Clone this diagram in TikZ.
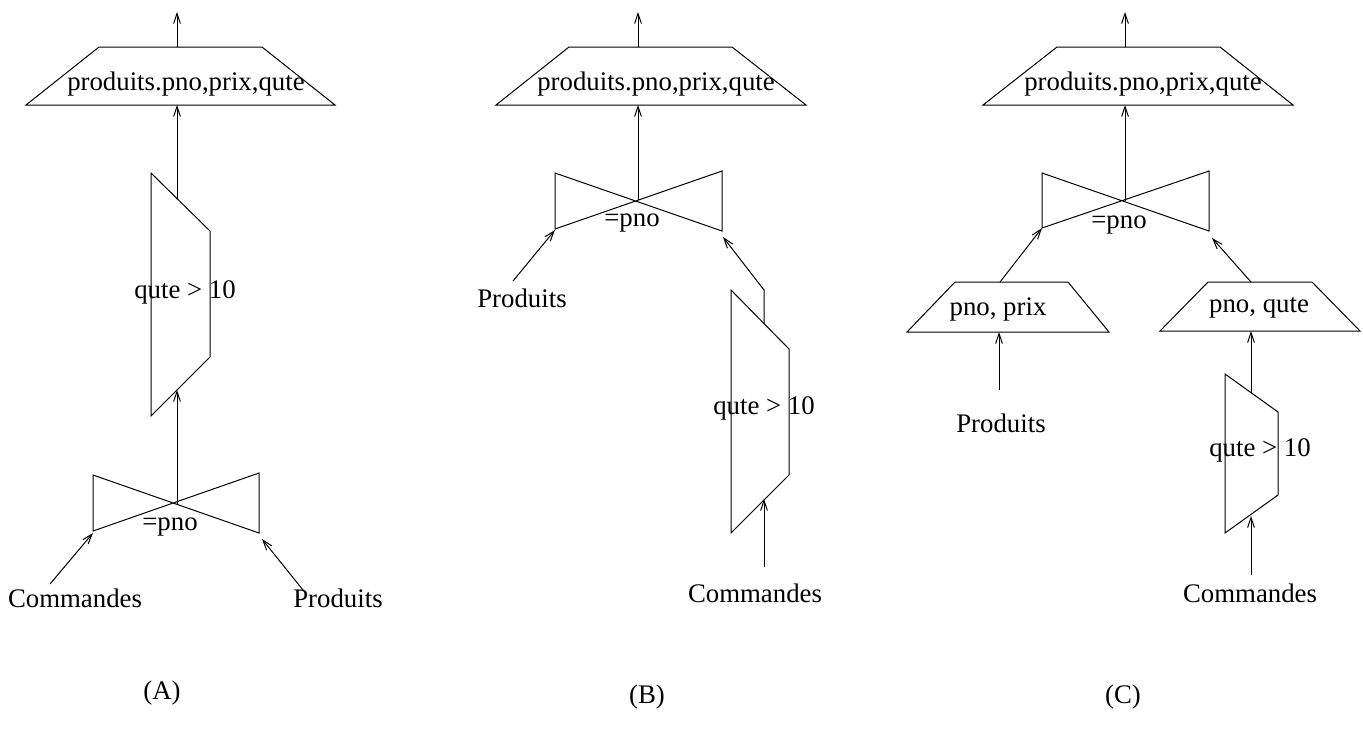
\documentclass[tikz,border=0pt]{standalone}
\usepackage{fontspec}
\setmainfont{Liberation Serif}
\usetikzlibrary{arrows.meta}

\begin{document}
\begin{tikzpicture}[x=0.5pt,y=-0.5pt,line width=0.5pt,
  >={Straight Barb[length=5pt,width=3.4pt]},
  lbl/.style={inner sep=0pt,font=\fontsize{13.4}{16}\selectfont}]
\useasboundingbox (0,0) rectangle (1363,751);
% (A)
\draw (99,47) -- (262,47) -- (335,105) -- (26,105) -- cycle;
\draw (151,173) -- (210,231) -- (210,357) -- (151,416) -- cycle;
\draw (93,475) -- (259,533) -- (259,473) -- (93,531) -- cycle;
\coordinate (outA) at (177,12);
\coordinate (projAtop) at (177,47);
\coordinate (projAbot) at (177,105);
\coordinate (selAtop) at (177,198.6);
\coordinate (selAbot) at (177,390);
\coordinate (joinA) at (177,504);
\coordinate (joinAl) at (93,533);
\coordinate (joinAr) at (262,539);
\coordinate (cmdAend) at (50,584);
\coordinate (prodAend) at (303,590);
\node[lbl] (projAtxt) at (186,84) {produits.pno,prix,qute};
\node[lbl] (selAtxt) at (185,292) {qute > 10};
\node[lbl] (joinAtxt) at (170,527) {=pno};
\node[lbl] (cmdA) at (75,598) {Commandes};
\node[lbl] (prodA) at (338,598) {Produits};
\node[lbl] (capA) at (162,693) {(A)};
\draw[->] (projAtop) -- (outA);
\draw[->] (selAtop) -- (projAbot);
\draw[->] (joinA) -- (selAbot);
\draw[->] (cmdAend) -- (joinAl);
\draw[->] (prodAend) -- (joinAr);
% (B)
\draw (569,47) -- (732,47) -- (806,105) -- (496,105) -- cycle;
\draw (555,173) -- (722,231) -- (722,171) -- (555,229) -- cycle;
\draw (731,290) -- (789,349) -- (789,475) -- (731,533) -- cycle;
\coordinate (outB) at (638,12);
\coordinate (projBtop) at (638,47);
\coordinate (projBbot) at (638,105);
\coordinate (joinB) at (638,200);
\coordinate (joinBl) at (555,230);
\coordinate (joinBr) at (723,237);
\coordinate (selBtop) at (764,323.6);
\coordinate (selBbend) at (764,290);
\coordinate (selBbot) at (764,499);
\coordinate (prodBend) at (513,281);
\coordinate (cmdBend) at (764,567);
\node[lbl] (projBtxt) at (656,84) {produits.pno,prix,qute};
\node[lbl] (joinBtxt) at (632,223) {=pno};
\node[lbl] (selBtxt) at (764,408) {qute > 10};
\node[lbl] (prodB) at (522,298) {Produits};
\node[lbl] (cmdB) at (755,593) {Commandes};
\node[lbl] (capB) at (647,697) {(B)};
\draw[->] (projBtop) -- (outB);
\draw[->] (joinB) -- (projBbot);
\draw[->] (prodBend) -- (joinBl);
\draw[->] (selBtop) -- (selBbend) -- (joinBr);
\draw[->] (cmdBend) -- (selBbot);
% (C)
\draw (1057,47) -- (1220,47) -- (1293,105) -- (983,105) -- cycle;
\draw (1042,173) -- (1209,231) -- (1209,171) -- (1042,228) -- cycle;
\draw (955,282) -- (1068,282) -- (1109,332) -- (907,332) -- cycle;
\draw (1208,282) -- (1312,282) -- (1360,331) -- (1160,331) -- cycle;
\draw (1225,374) -- (1278,412) -- (1278,495) -- (1225,533) -- cycle;
\coordinate (outC) at (1125,12);
\coordinate (projCtop) at (1125,47);
\coordinate (projCbot) at (1125,105);
\coordinate (joinC) at (1125,201);
\coordinate (joinCl) at (1042,228);
\coordinate (joinCr) at (1212,238);
\coordinate (ppTop) at (1000,282);
\coordinate (ppBot) at (999,332);
\coordinate (pqTop) at (1251,282);
\coordinate (pqBot) at (1251,331);
\coordinate (selCtop) at (1251,392.6);
\coordinate (selCbot) at (1251,516);
\coordinate (prodCend) at (999,390);
\coordinate (cmdCend) at (1251,575);
\node[lbl] (projCtxt) at (1143,84) {produits.pno,prix,qute};
\node[lbl] (joinCtxt) at (1119,225) {=pno};
\node[lbl] (ppTxt) at (998,309) {pno, prix};
\node[lbl] (pqTxt) at (1259,308) {pno, qute};
\node[lbl] (selCtxt) at (1260,450) {qute > 10};
\node[lbl] (prodC) at (1001,423) {Produits};
\node[lbl] (cmdC) at (1250,593) {Commandes};
\node[lbl] (capC) at (1123,697) {(C)};
\draw[->] (projCtop) -- (outC);
\draw[->] (joinC) -- (projCbot);
\draw[->] (ppTop) -- (joinCl);
\draw[->] (pqTop) -- (joinCr);
\draw[->] (prodCend) -- (ppBot);
\draw[->] (selCtop) -- (pqBot);
\draw[->] (cmdCend) -- (selCbot);
\end{tikzpicture}
\end{document}
